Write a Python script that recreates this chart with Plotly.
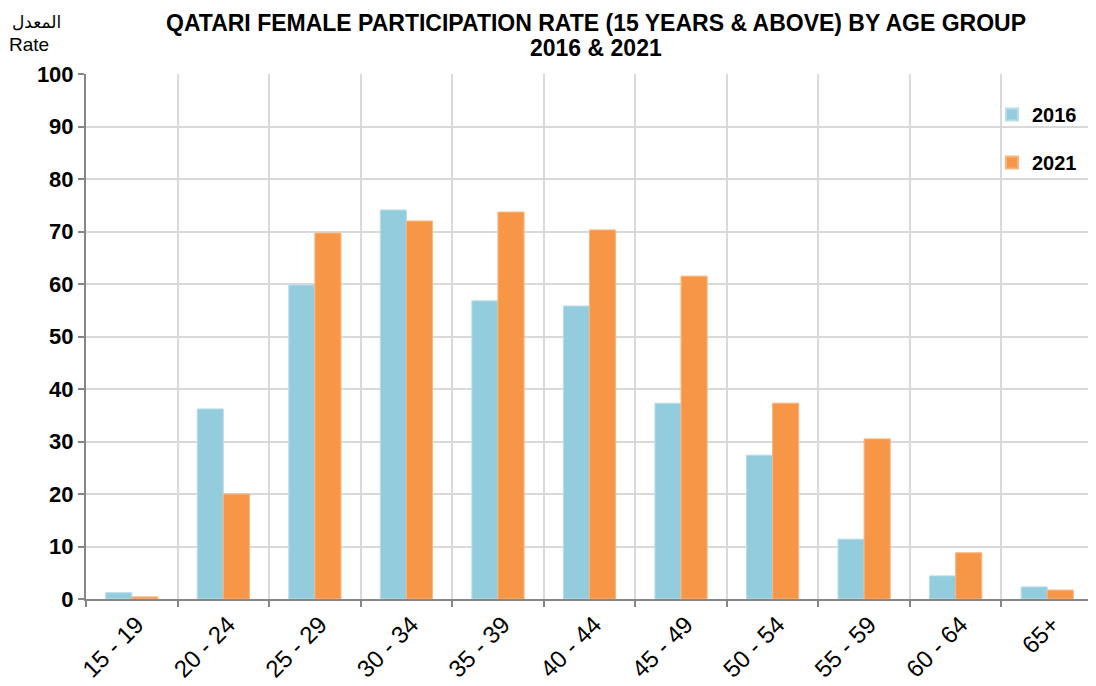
import plotly.graph_objects as go

age_groups = ["15 - 19", "20 - 24", "25 - 29", "30 - 34", "35 - 39", "40 - 44",
              "45 - 49", "50 - 54", "55 - 59", "60 - 64", "65+"]
rate_2016 = [1.2, 36.2, 59.8, 74.1, 56.8, 55.8, 37.3, 27.4, 11.4, 4.4, 2.3]
rate_2021 = [0.4, 20.0, 69.7, 72.0, 73.7, 70.3, 61.5, 37.3, 30.5, 8.8, 1.7]
title_lines = ["QATARI FEMALE PARTICIPATION RATE (15 YEARS &amp; ABOVE) BY AGE GROUP",
               "2016 &amp; 2021"]

# page body has an 8px margin; work in window pixels and convert
OFF = 8
W, H = 1096 - OFF, 686 - OFF
PX0, PX1, PY0, PY1 = 86, 1093, 74, 599  # plot area in window pixels
L, R, T, B = PX0 - OFF, W - (PX1 - OFF), PY0 - OFF, H - (PY1 - OFF)
pw, ph = PX1 - PX0, PY1 - PY0

def px_x(x):
    return (x - PX0) / pw

def px_y(y):
    return (PY1 - y) / ph

FONT = "Liberation Sans, Arial"

fig = go.Figure()
fig.add_trace(go.Bar(x=age_groups, y=rate_2016, name="<b>2016</b>", legendgroup="a",
                     marker=dict(color="#93CDDD", line=dict(color="#B7DEE8", width=1))))
fig.add_trace(go.Bar(x=age_groups, y=rate_2021, name="<b>2021</b>", legendgroup="b",
                     marker=dict(color="#F79646", line=dict(color="#FAB57F", width=1))))

fig.update_layout(
    width=W, height=H,
    margin=dict(l=L, r=R, t=T, b=B, autoexpand=False),
    paper_bgcolor="white", plot_bgcolor="white",
    barmode="group", bargap=0.43, bargroupgap=0,
    font=dict(family=FONT, color="black"),
    showlegend=True,
    legend=dict(x=px_x(992), y=px_y(95), xanchor="left", yanchor="top",
                bgcolor="rgba(0,0,0,0)", tracegroupgap=19,
                font=dict(size=20, family=FONT, color="black"),
                itemwidth=30, itemsizing="constant"),
    xaxis=dict(type="category", tickson="boundaries", showgrid=True,
               gridcolor="#D9D9D9", gridwidth=1.5, showline=True,
               linecolor="#868686", linewidth=2, ticks="outside", ticklen=6,
               tickcolor="#868686", tickwidth=2, tickangle=-45,
               ticklabelshift=5,
               tickfont=dict(size=24, family=FONT)),
    yaxis=dict(range=[0, 100], dtick=10, showgrid=True, gridcolor="#D9D9D9",
               gridwidth=1.5, zeroline=False, showline=True, linecolor="#868686",
               linewidth=2, ticks="outside", ticklen=6, tickcolor="#868686",
               tickwidth=2, tickprefix="<b>", ticksuffix="</b>",
               tickfont=dict(size=22, family=FONT)),
    annotations=[
        dict(text="<b>" + title_lines[0] + "</b>",
             xref="paper", yref="paper", x=px_x(596), y=px_y(8), yanchor="top",
             xanchor="center", showarrow=False,
             font=dict(size=23, family=FONT)),
        dict(text="<b>" + title_lines[1] + "</b>",
             xref="paper", yref="paper", x=px_x(596), y=px_y(33), yanchor="top",
             xanchor="center", showarrow=False,
             font=dict(size=23, family=FONT)),
        dict(text="المعدل", xref="paper", yref="paper", x=px_x(10), y=px_y(8),
             xanchor="left", yanchor="top", showarrow=False,
             font=dict(size=17, family="Noto Sans, DejaVu Sans")),
        dict(text="Rate", xref="paper", yref="paper", x=px_x(29), y=px_y(45),
             xanchor="center", yanchor="middle", showarrow=False,
             font=dict(size=19, family=FONT)),
    ],
)

fig.write_html("out.html")
